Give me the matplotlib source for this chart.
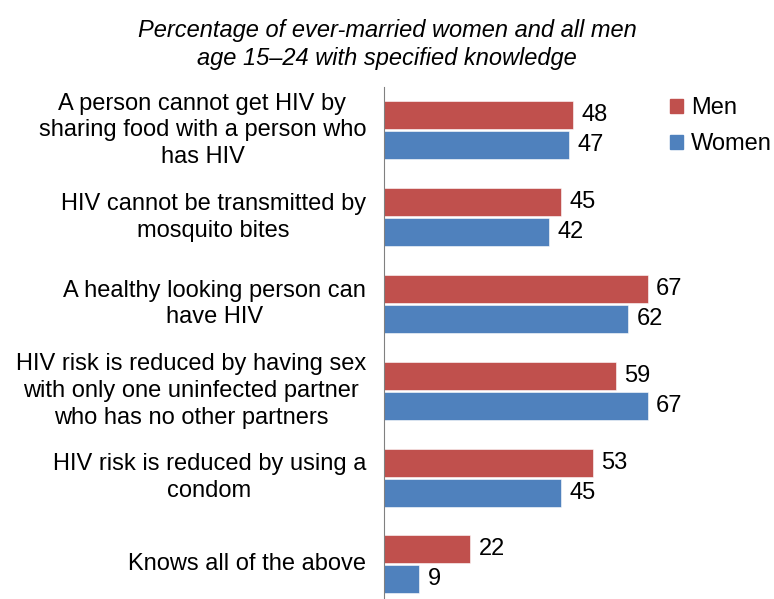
import matplotlib.pyplot as plt
import numpy as np
from matplotlib.patches import Patch

plt.rcParams['font.family'] = ['Liberation Sans', 'DejaVu Sans']

categories = [
    "A person cannot get HIV by\nsharing food with a person who\nhas HIV",
    "HIV cannot be transmitted by\nmosquito bites",
    "A healthy looking person can\nhave HIV",
    "HIV risk is reduced by having sex\nwith only one uninfected partner\nwho has no other partners",
    "HIV risk is reduced by using a\ncondom",
    "Knows all of the above",
]
men = [48, 45, 67, 59, 53, 22]
women = [47, 42, 62, 67, 45, 9]

MEN_COLOR = '#C0504D'
WOMEN_COLOR = '#4F81BD'
FS = 17

W, H = 774, 599
fig = plt.figure(figsize=(W / 100, H / 100), dpi=100)

# axes placed in pixel terms to line up with the reference
ax_left, ax_top = 383.7, 87
ax_w = 90 * 3.94
ax_h = H - ax_top
ax = fig.add_axes([ax_left / W, 0, ax_w / W, ax_h / H])

pitch = 86.8
ax.set_ylim(ax_h / pitch - 0.5, -0.5)
ax.set_xlim(0, 90)

y = np.arange(len(categories))
bh = 28 / pitch
off = 15 / pitch
ax.barh(y - off, men, height=bh, color=MEN_COLOR, edgecolor='white', linewidth=0.4)
ax.barh(y + off, women, height=bh, color=WOMEN_COLOR, edgecolor='white', linewidth=0.4)

for yi, v in zip(y - off, men):
    ax.annotate(str(v), (v, yi), xytext=(6, 0), textcoords='offset points',
                va='center', ha='left', fontsize=FS)
for yi, v in zip(y + off, women):
    ax.annotate(str(v), (v, yi), xytext=(6, 0), textcoords='offset points',
                va='center', ha='left', fontsize=FS)

for yi, lab in zip(y, categories):
    ax.text(-17.5 / 3.94, yi, lab, ha='right', va='center', multialignment='center',
            fontsize=FS, linespacing=1.28)

for s in ['top', 'right', 'bottom']:
    ax.spines[s].set_visible(False)
ax.spines['left'].set_color('#808080')
ax.set_xticks([])
ax.set_yticks([])

fig.text(387 / W, 1 - 31 / H, "Percentage of ever-married women and all men",
         ha='center', va='center', fontsize=FS, style='italic')
fig.text(387 / W, 1 - 59 / H, "age 15\u201324 with specified knowledge",
         ha='center', va='center', fontsize=FS, style='italic')

handles = [Patch(color=MEN_COLOR), Patch(color=WOMEN_COLOR)]
fig.legend(handles, ['Men', 'Women'], loc='upper left',
           bbox_to_anchor=(670 / W, 1 - 97 / H), frameon=False, fontsize=FS,
           handlelength=0.55, handleheight=0.55, handletextpad=0.35, labelspacing=0.6,
           borderpad=0, borderaxespad=0)

fig.savefig('out.png', dpi=100)
